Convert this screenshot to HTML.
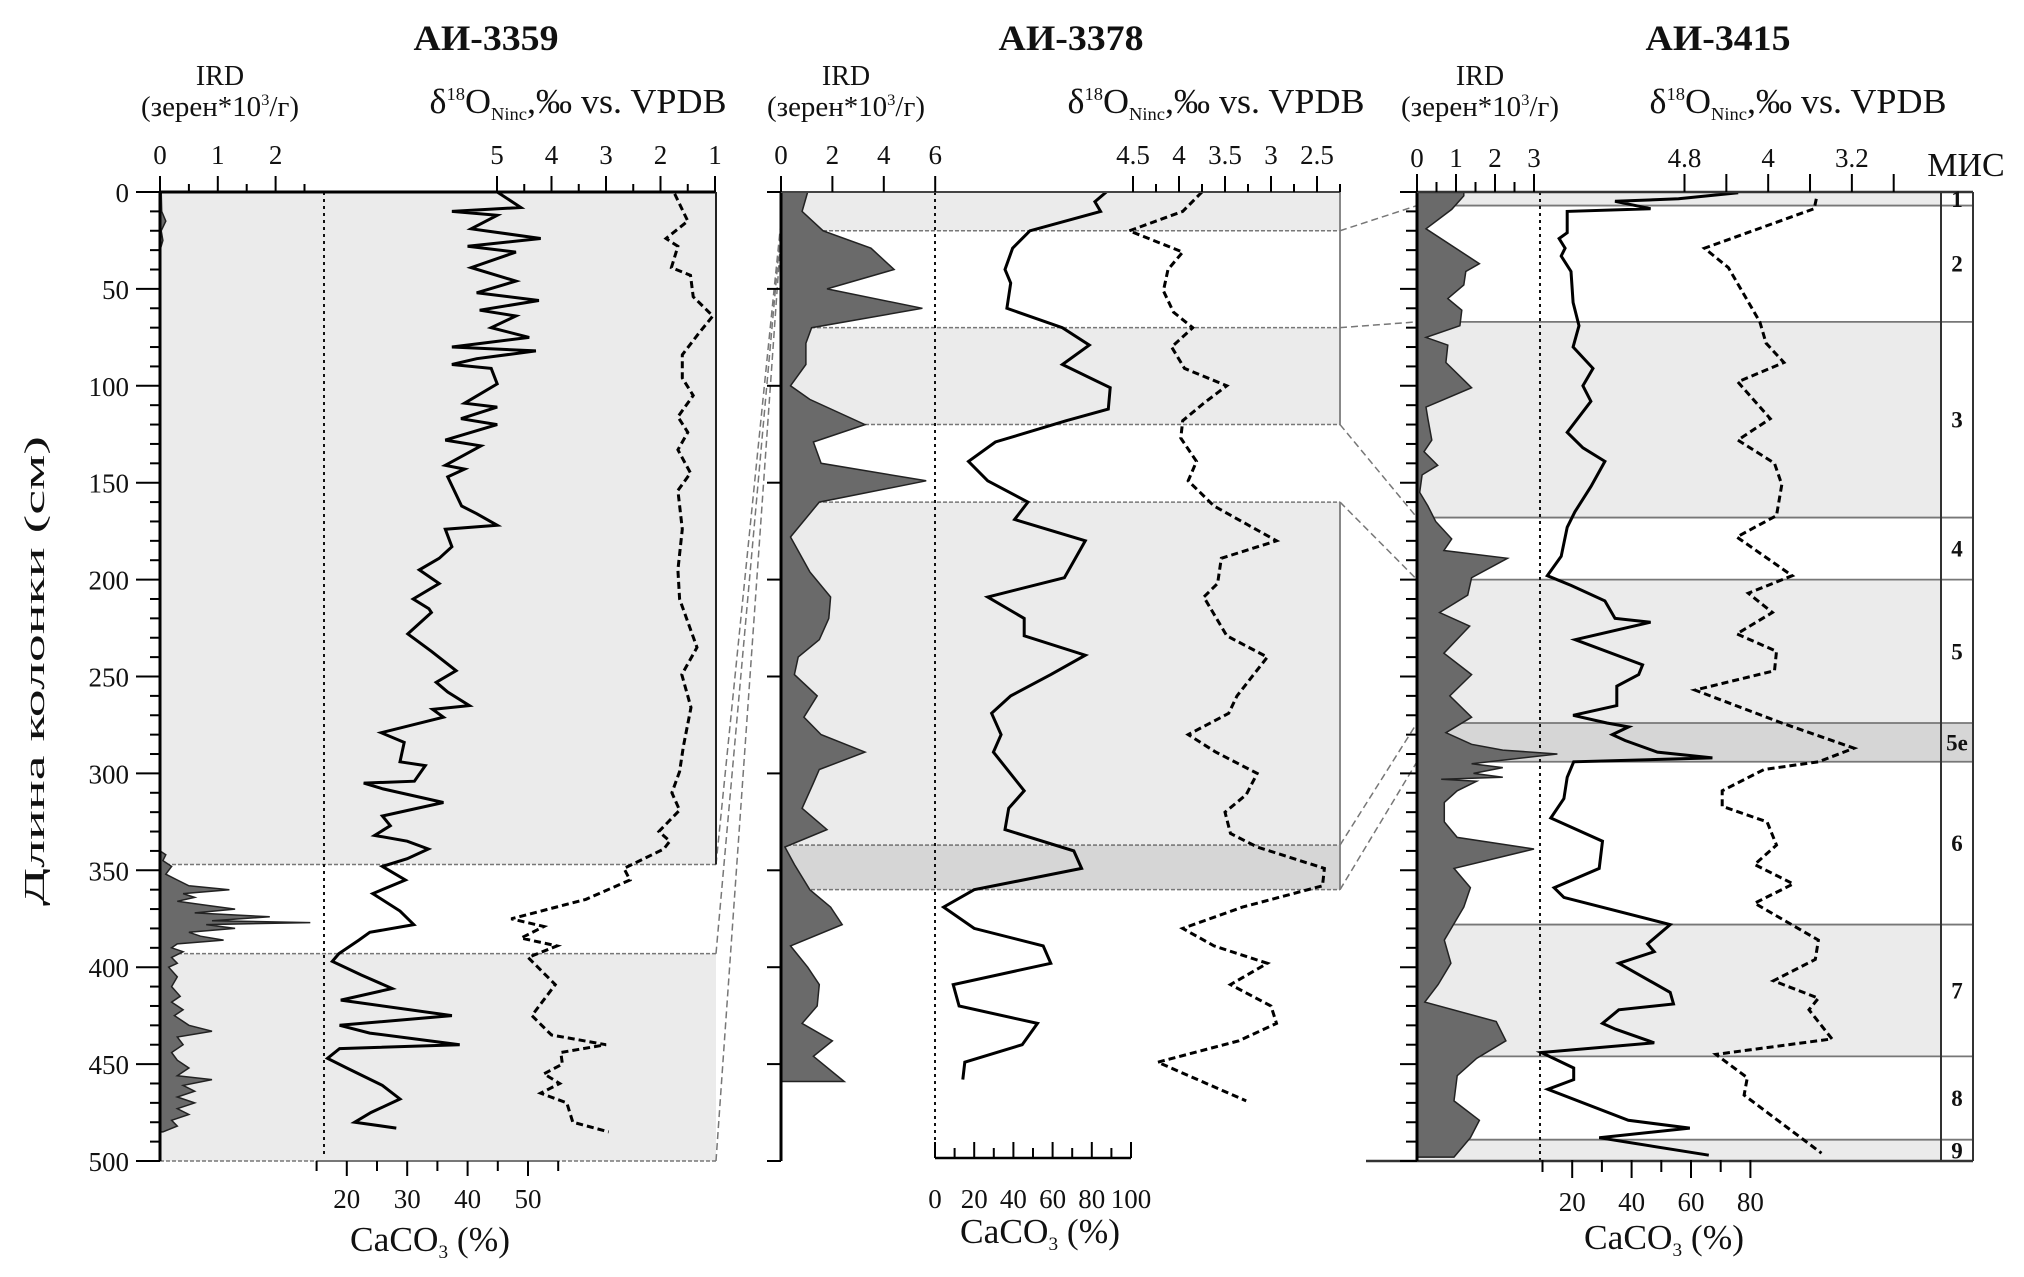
<!DOCTYPE html>
<html><head><meta charset="utf-8"><style>
html,body{margin:0;padding:0;background:#fff;}
svg{display:block;font-family:"Liberation Serif",serif;}
</style></head><body>
<svg id="chart" width="2024" height="1277" viewBox="0 0 2024 1277" xmlns="http://www.w3.org/2000/svg">
<g id="bg"></g><g id="marks"></g><g id="axes"></g><g id="labels"></g>
</svg>
<script>
// ---------- DATA ----------
const p1Ird=[[0,0.02],[10,0.03],[15,0.1],[20,0.02],[25,0.05],[30,0],[340,0],[342,0.1],[345,0.05],[348,0.2],[352,0.1],[355,0.3],[358,0.5],[360,1.2],[362,0.4],[364,0.6],[366,0.3],[368,0.8],[370,1.3],[372,0.6],[374,1.9],[376,0.9],[377,2.6],[378,0.8],[380,1.3],[382,0.5],[384,0.7],[386,1.1],[388,0.3],[390,0.2],[392,0.4],[395,0.2],[398,0.3],[400,0.15],[405,0.3],[410,0.2],[415,0.35],[418,0.2],[422,0.4],[425,0.25],[430,0.5],[433,0.9],[436,0.3],[440,0.4],[444,0.2],[448,0.3],[452,0.5],[456,0.3],[458,0.9],[461,0.4],[464,0.6],[467,0.3],[470,0.6],[473,0.3],[476,0.5],[479,0.2],[482,0.3],[485,0.05]];
const p1Caco3=[[0,44.9],[8,48.8],[10,37.4],[12,44.9],[19,40.6],[24,52.1],[28,40],[31,48],[39,40.6],[46,48],[52,41.5],[56,51.8],[61,42],[64,48],[70,43.9],[75,50.2],[80,37.4],[82,51.3],[86,41.5],[89,37.4],[91,43.9],[99,44.9],[109,39.5],[111,44.9],[117,38.9],[120,44.9],[128,36.3],[131,42.2],[141,36.3],[143,39.5],[147,36.7],[162,39],[166,41.5],[172,44.9],[174,36.3],[183,37.4],[189,35.3],[195,32],[202,35.3],[210,31],[215,33.6],[217,34],[228,30.1],[237,34],[247,38.1],[253,34.8],[258,36.7],[265,40.3],[267,34.2],[271,36],[279,25.7],[284,29.5],[294,28.8],[296,33],[304,31.2],[305,22.8],[308,26],[315,36],[322,25.9],[327,27.2],[332,24.6],[335,30],[339,33.5],[344,30],[348,25.9],[355,29.7],[362,24.3],[371,28.8],[378,31.1],[382,23.8],[386,22],[393,18.7],[397,17.6],[404,22.4],[411,27.5],[417,19],[425,37.4],[430,18.8],[434,23.8],[440,38.7],[442,18.8],[447,16.8],[452,20],[461,25.9],[468,28.8],[475,24],[480,21.3],[483,28.2]];
const p1D18o=[[1,1.74],[15,1.5],[24,1.9],[28,1.68],[39,1.8],[43,1.45],[54,1.4],[64,1.04],[73,1.3],[84,1.6],[96,1.6],[105,1.4],[116,1.68],[124,1.5],[133,1.68],[145,1.45],[154,1.68],[174,1.6],[195,1.68],[210,1.65],[221,1.51],[235,1.33],[249,1.61],[266,1.44],[286,1.58],[299,1.65],[310,1.79],[319,1.65],[330,2.03],[335,1.83],[339,1.94],[349,2.67],[355,2.56],[365,3.37],[375,4.74],[379,4.14],[385,4.56],[389,3.9],[395,4.43],[409,3.93],[425,4.36],[435,4.0],[440,3.0],[444,3.83],[450,3.8],[455,4.14],[460,3.85],[465,4.2],[470,3.72],[480,3.61],[485,2.95]];
const p2Ird=[[0,1.04],[10,0.82],[20,1.64],[29,3.5],[40,4.4],[50,1.79],[60,5.5],[70,1.19],[78,0.97],[89,0.97],[100,0.37],[107,1.12],[120,3.27],[129,1.26],[140,1.56],[149,5.65],[160,1.49],[178,0.37],[196,1.12],[209,1.93],[220,1.86],[231,1.49],[240,0.67],[249,0.52],[260,1.41],[271,0.89],[280,1.56],[289,3.27],[298,1.49],[305,1.26],[318,0.82],[329,1.79],[338,0.15],[347,0.52],[360,1.12],[369,1.93],[378,2.38],[389,0.37],[400,1.04],[409,1.49],[420,1.41],[429,0.82],[438,2.0],[446,1.26],[459,2.46]];
const p2Caco3=[[0,87.4],[5,81.6],[10,84.5],[20,48.4],[29,39.6],[40,35.7],[47,38.6],[60,36.7],[70,65],[79,78.7],[89,65],[101,89.4],[112,88.4],[118,67],[129,30.8],[139,17.1],[149,26.9],[160,47.4],[169,40.6],[180,76.7],[199,66],[209,26.9],[220,45.5],[229,45.5],[239,76.7],[249,59.1],[260,38.6],[269,28.9],[280,33.7],[289,29.8],[309,45.5],[318,37.6],[329,35.7],[340,70.8],[349,74.8],[360,20],[369,4.4],[380,20],[389,55.2],[398,59.1],[409,9.3],[420,12.3],[429,52.3],[440,44.5],[449,15.2],[458,14.2]];
const p2D18o=[[0,3.75],[10,3.96],[20,4.54],[31,3.96],[40,4.12],[51,4.17],[62,4.06],[70,3.85],[80,4.08],[91,3.94],[100,3.48],[109,3.73],[118,3.96],[127,3.98],[139,3.81],[149,3.9],[162,3.62],[180,2.94],[189,3.54],[202,3.58],[209,3.73],[229,3.48],[240,3.04],[260,3.37],[269,3.46],[280,3.9],[289,3.6],[300,3.15],[311,3.27],[320,3.5],[331,3.44],[338,3.15],[349,2.42],[358,2.44],[369,3.31],[380,3.96],[389,3.62],[398,3.04],[409,3.44],[420,3.0],[429,2.94],[438,3.35],[449,4.23],[469,3.27]];
const p3Ird=[[0,1.2],[2,1.2],[9,0.89],[19,0.23],[37,1.6],[41,1.25],[48,1.2],[55,0.79],[61,1.15],[69,1.1],[75,0.23],[79,0.79],[88,0.74],[101,1.4],[111,0.23],[117,0.28],[128,0.38],[134,0.18],[141,0.53],[146,0.13],[155,0.07],[162,0.28],[170,0.48],[179,0.89],[185,0.69],[189,2.32],[199,1.4],[208,1.3],[217,0.58],[224,1.35],[238,0.69],[249,1.4],[260,0.84],[271,1.4],[279,0.74],[285,1.4],[288,2.2],[290,3.6],[295,1.4],[297,2.2],[300,1.45],[302,2.2],[303,0.62],[304,1.53],[309,1.03],[315,0.7],[325,0.7],[333,1.03],[339,3.0],[349,0.95],[359,1.37],[369,1.2],[386,0.7],[398,0.87],[409,0.54],[418,0.2],[428,2.03],[438,2.28],[447,1.53],[456,1.03],[469,0.95],[479,1.6],[488,1.37],[498,0.95]];
const p3Caco3=[[0.4,75.9],[3.5,55.8],[4.8,34.4],[8.6,46.4],[10,18.3],[21,18.3],[24,15.6],[29,17.6],[33,16.3],[41,19.6],[57,20.3],[69,22.3],[80,20.3],[91,27],[100,23.6],[108,26.3],[124,18.3],[132,23.6],[139,31],[152,26.3],[165,20.9],[173,18.3],[188,16.3],[198,11.6],[203,19.6],[211,31],[220,34.4],[222,46.4],[231,21],[244,43.7],[249,42.4],[255,35],[265,35],[270,20.3],[274,31.7],[276,39],[280,33.5],[283,37.8],[289,48.7],[292,67.2],[294,20.5],[302,18.3],[313,17.2],[323,12.8],[335,30.2],[349,29.1],[359,13.9],[364,17.2],[378,53],[388,45.4],[392,47.6],[398,35.7],[413,53],[419,54.1],[422,35.7],[429,30.2],[432,34.6],[439,47.6],[444,9.6],[452,20.5],[458,20.5],[463,11.8],[479,38.9],[483,59.6],[488,29.1],[497,66]];
const p3D18o=[[3.5,3.54],[8.6,3.56],[29,4.61],[39,4.38],[67,4.08],[78,4.02],[88,3.85],[98,4.29],[117,3.98],[128,4.29],[140,3.94],[151,3.87],[167,3.92],[178,4.3],[198,3.77],[207,4.19],[217,3.96],[228,4.3],[237,3.92],[247,3.94],[257,4.7],[274,3.87],[287,3.18],[294,3.52],[298,4.04],[309,4.44],[317,4.44],[325,4.01],[337,3.92],[347,4.13],[357,3.76],[367,4.13],[386,3.52],[396,3.55],[407,3.95],[416,3.52],[422,3.61],[437,3.39],[445,4.5],[457,4.2],[466,4.23],[496,3.49]];
const p1Bands=[[0,347,'l'],[393,500,'l']];
const p2Bands=[[0,20,'l'],[70,120,'l'],[160,337,'l'],[337,360,'d']];
const misNames=['1','2','3','4','5','5e','6','7','8','9'];
const misTops=[0,7,67,168,200,274,294,378,446,489];
const misBottoms=[7,67,168,200,274,294,378,446,489,500];
const p1DepthLabels=[0,50,100,150,200,250,300,350,400,450,500];
const p1IrdTicks=['0','1','2'];
const p1D18Ticks=['5','4','3','2','1'];
const p1CaTicks=['20','30','40','50'];
const p2IrdTicks=['0','2','4','6'];
const p2D18Ticks=['4.5','4','3.5','3','2.5'];
const p2CaTicks=['0','20','40','60','80','100'];
const p3IrdTicks=['0','1','2','3'];
const p3D18Ticks=['4.8','4','3.2'];
const p3CaTicks=['20','40','60','80'];

// ---------- SCALES ----------
const Y=d=>192+d*1.938;
const P1={l:160,r:716,ird:v=>160+v*57.8,ca:v=>226+v*6.04,d18:v=>497+(5-v)*54.5};
const P2={l:781,r:1340,ird:v=>781+v*25.7,ca:v=>935+v*1.96,d18:v=>1133+(4.5-v)*92};
const P3={l:1417,r:1941,ird:v=>1417+v*39,ca:v=>1512.8+v*2.97,d18:v=>1684.5+(4.8-v)*104.6};
const NS='http://www.w3.org/2000/svg';
function mk(tag,parent,attrs,txt){const e=document.createElementNS(NS,tag);for(const k in attrs)e.setAttribute(k,attrs[k]);if(txt!==undefined)e.textContent=txt;document.getElementById(parent).appendChild(e);return e;}
function line(par,x1,y1,x2,y2,st,w,dash){const e=mk('line',par,{x1,y1,x2,y2,stroke:st||'#000','stroke-width':w||2});if(dash)e.setAttribute('stroke-dasharray',dash);return e;}
function txt(par,x,y,s,size,anchor,weight){const e=mk('text',par,{x,y,'font-size':size,'text-anchor':anchor||'middle','font-weight':weight||'normal',fill:'#111'},s);return e;}

function bands(P,list){list.forEach(b=>{const r=mk('rect','bg',{x:P.l,y:Y(b[0]),width:P.r-P.l,height:Y(b[1])-Y(b[0]),fill:b[2]=='d'?'#d6d6d6':'#ebebeb'});
 line('bg',P.l,Y(b[0]),P.r,Y(b[0]),'#777',1.5,'4 2');line('bg',P.l,Y(b[1]),P.r,Y(b[1]),'#777',1.5,'4 2');});}
bands(P1,p1Bands);bands(P2,p2Bands);
line('bg',P2.r,Y(0),P2.r,Y(120),'#888',2);line('bg',P2.r,Y(160),P2.r,Y(360),'#888',2);
misNames.forEach((n,i)=>{const odd=['1','3','5','7','9'].includes(n);const dark=n=='5e';
 if(odd||dark){const r=mk('rect','bg',{x:P3.l,y:Y(misTops[i]),width:(dark?1973:P3.r)-P3.l,height:Y(misBottoms[i])-Y(misTops[i]),fill:dark?'#d6d6d6':'#ebebeb'});}
 const t=txt('labels',1957,(Y(misTops[i])+Y(misBottoms[i]))/2+8,n,23,'middle','bold');
 if(i>0)line('bg',P3.l,Y(misTops[i]),1973,Y(misTops[i]),'#777',1.8);});
line('axes',P3.r,Y(0),P3.r,Y(500),'#333',2);line('axes',1973,Y(0),1973,Y(500),'#333',2);
line('axes',1366,Y(500),1973,Y(500),'#333',2.5);

[[P1.r,347,P2.l,15],[P1.r,393,P2.l,18],[P1.r,500,P2.l,22],[P2.r,20,P3.l,7],[P2.r,70,P3.l,67],[P2.r,120,P3.l,168],[P2.r,160,P3.l,200],[P2.r,337,P3.l,274],[P2.r,360,P3.l,294]].forEach(c=>{const e=line('bg',c[0],Y(c[1]),c[2],Y(c[3]),'#777',1.5,'7 4');});

line('bg',324,Y(0),324,1155,'#111',2,'3 4');line('bg',935,Y(0),935,1158,'#111',2,'3 4');line('bg',1540,Y(0),1540,1160,'#111',2,'3 4');

function area(P,data,name){let d='M'+P.l+','+Y(data[0][0]);data.forEach(p=>{d+=' L'+P.ird(p[1]).toFixed(1)+','+Y(p[0]).toFixed(1);});d+=' L'+P.l+','+Y(data[data.length-1][0])+' Z';const e=mk('path','marks',{d,fill:'#6a6a6a',stroke:'#222','stroke-width':1.5});}
function poly(P,f,data,name,dash){const pts=data.map(p=>f(p[1]).toFixed(1)+','+Y(p[0]).toFixed(1)).join(' ');const e=mk('polyline','marks',{points:pts,fill:'none',stroke:'#000','stroke-width':3,'stroke-linejoin':'miter'});if(dash)e.setAttribute('stroke-dasharray','7 4');}
area(P1,p1Ird,'ird-area-3359');area(P2,p2Ird,'ird-area-3378');area(P3,p3Ird,'ird-area-3415');
poly(P1,P1.ca,p1Caco3,'caco3-line-3359');poly(P2,P2.ca,p2Caco3,'caco3-line-3378');poly(P3,P3.ca,p3Caco3,'caco3-line-3415');
poly(P1,P1.d18,p1D18o,'d18o-line-3359',1);poly(P2,P2.d18,p2D18o,'d18o-line-3378',1);poly(P3,P3.d18,p3D18o,'d18o-line-3415',1);

line('axes',P1.l,Y(0),P1.l,Y(500),'#000',3);line('axes',P1.l,Y(0),P1.r,Y(0),'#000',3);line('axes',P1.r,Y(0),P1.r,Y(347),'#222',2);
for(let d=0;d<=500;d+=10){const maj=d%50==0;line('axes',maj?136:150,Y(d),P1.l,Y(d),'#000',2);}
p1DepthLabels.forEach(d=>{const t=txt('labels',129,Y(d)+10,String(d),27,'end');});
for(let v=0;v<=2.5;v+=0.5)line('axes',P1.ird(v),v%1==0?176:184,P1.ird(v),Y(0),'#000',2);
p1IrdTicks.forEach((s,i)=>txt('labels',P1.ird(i),164,s,27));
for(let v=5;v>=1;v-=0.5)line('axes',P1.d18(v),v%1==0?176:184,P1.d18(v),Y(0),'#000',2);
p1D18Ticks.forEach((s,i)=>txt('labels',P1.d18(5-i),164,s,27));
line('axes',P1.ca(15),Y(500),P1.ca(55),Y(500),'#777',2);
for(let v=15;v<=55;v+=5)line('axes',P1.ca(v),Y(500),P1.ca(v),Y(500)+(v%10==0?15:10),'#000',2);
p1CaTicks.forEach((s,i)=>txt('labels',P1.ca(20+10*i),1208,s,27));
line('axes',P2.l,Y(0),P2.l,Y(500),'#000',3);line('axes',P2.l,Y(0),P2.r,Y(0),'#444',2);
for(let d=0;d<=500;d+=50)line('axes',767,Y(d),P2.l,Y(d),'#000',2);
p2IrdTicks.forEach((s,i)=>{line('axes',P2.ird(2*i),176,P2.ird(2*i),Y(0),'#000',2);txt('labels',P2.ird(2*i),164,s,27);});
for(let k=0;k<10;k++){const v=4.5-0.25*k;line('axes',P2.d18(v),k%2==0?176:184,P2.d18(v),Y(0),'#000',2);}
p2D18Ticks.forEach((s,i)=>txt('labels',P2.d18(4.5-0.5*i),164,s,27));
line('axes',P2.ca(0),1158,P2.ca(100),1158,'#000',2.5);
for(let v=0;v<=100;v+=10)line('axes',P2.ca(v),1158,P2.ca(v),1158-(v%20==0?16:10),'#000',2);
p2CaTicks.forEach((s,i)=>txt('labels',P2.ca(20*i),1208,s,27));
line('axes',P3.l,Y(0),P3.l,Y(500),'#000',3);line('axes',P3.l,Y(0),1973,Y(0),'#333',2.5);
for(let d=0;d<=500;d+=10)line('axes',d%50==0?1400:1406,Y(d),P3.l,Y(d),'#000',2);
for(let v=0;v<=3;v+=0.5)line('axes',P3.ird(v),v%1==0?174:182,P3.ird(v),Y(0),'#000',2);
p3IrdTicks.forEach((s,i)=>txt('labels',P3.ird(i),167,s,27));
for(let k=0;k<6;k++){const v=4.8-0.4*k;line('axes',P3.d18(v),174,P3.d18(v),Y(0),'#000',2);}
p3D18Ticks.forEach((s,i)=>txt('labels',P3.d18(4.8-0.8*i),167,s,27));
for(let v=10;v<=80;v+=10)line('axes',P3.ca(v),1160,P3.ca(v),1160+(v%20==0?18:12),'#000',2);
p3CaTicks.forEach((s,i)=>txt('labels',P3.ca(20+20*i),1211,s,27));

[['АИ-3359',486],['АИ-3378',1071],['АИ-3415',1718]].forEach(t=>{const e=txt('labels',t[1],50,t[0],36,'middle','bold');e.setAttribute('textLength','145');e.setAttribute('lengthAdjust','spacingAndGlyphs');});
function irdTitle(x){txt('labels',x,85,'IRD',28);const e=mk('text','labels',{x,y:116,'font-size':28,'text-anchor':'middle',fill:'#111',textLength:158,lengthAdjust:'spacingAndGlyphs'});e.innerHTML='(зерен*10<tspan font-size="16" dy="-11">3</tspan><tspan dy="11">/г)</tspan>';}
irdTitle(220);irdTitle(846);irdTitle(1480);
function dTitle(x,y){const e=mk('text','labels',{x,y,'font-size':35,'text-anchor':'middle',fill:'#111',textLength:297,lengthAdjust:'spacingAndGlyphs'});e.innerHTML='δ<tspan font-size="18" dy="-13">18</tspan><tspan dy="13">O</tspan><tspan font-size="18" dy="7">Ninc</tspan><tspan dy="-7">,‰ vs. VPDB</tspan>';}
dTitle(578,113);dTitle(1216,113);dTitle(1798,113);
function caTitle(x,y){const e=mk('text','labels',{x,y,'font-size':35,'text-anchor':'middle',fill:'#111',textLength:160,lengthAdjust:'spacingAndGlyphs'});e.innerHTML='CaCO<tspan font-size="19" dy="7">3</tspan><tspan dy="-7"> (%)</tspan>';}
caTitle(430,1251);caTitle(1040,1243);caTitle(1664,1249);
const mis=txt('labels',1966,176,'МИС',34);
const yt=mk('text','labels',{x:0,y:0,'font-size':29,'text-anchor':'middle',fill:'#111',transform:'translate(44,671) rotate(-90)',textLength:470,lengthAdjust:'spacingAndGlyphs'},'Длина колонки (см)');

</script>
</body></html>
